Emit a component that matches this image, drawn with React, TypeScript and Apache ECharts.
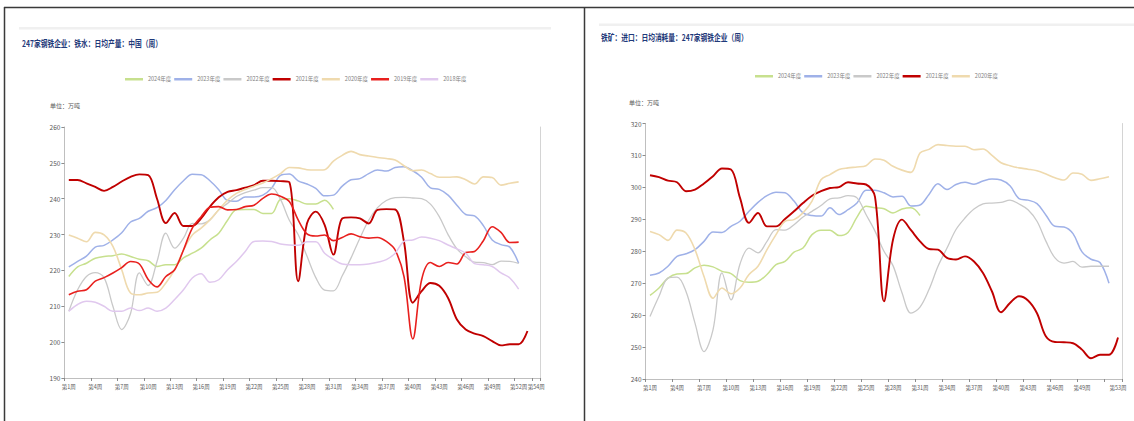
import React, { useEffect, useRef } from "react";
import * as echarts from "echarts";

// Week categories for the two panels
const LEFT_WEEKS = Array.from({ length: 54 }, (_, i) => `第${i + 1}周`);
const RIGHT_WEEKS = Array.from({ length: 53 }, (_, i) => `第${i + 1}周`);

// Hot metal daily output, 247 mills (10k t)
const HM_2024 = [218.3, 221, 222, 223.4, 223.9, 224.1, 224.6, 223.9, 223.1, 222.7, 221.1, 221.6, 221.6, 223.5, 224.8, 226.2, 228.5, 230.4, 234, 236.9, 237, 237, 235.9, 235.9, 239.8, 240, 239.4, 238.5, 238.5, 239.6, 237];
const HM_2023 = [221, 222.5, 224, 226.5, 227, 228.5, 230.5, 233.5, 234.5, 236.5, 237.5, 239.5, 242.5, 245, 246.8, 246.7, 245, 242.5, 239.5, 239.3, 240.5, 240.5, 241, 243, 246.5, 246.9, 245, 244.1, 242.9, 240.8, 241, 243.5, 245.3, 245.6, 247, 248, 247.7, 248.7, 248.9, 247.8, 246, 243, 242.6, 241, 238.2, 235.6, 235.2, 232.5, 228.5, 227.2, 226.5, 222];
const HM_2022 = [208.6, 214.6, 218.3, 219.4, 218, 210, 203.5, 208, 219.3, 215.8, 222.5, 230.4, 226.2, 229, 233.1, 233, 234.1, 236.9, 238.7, 240.6, 241.7, 242.4, 243.1, 243.1, 239.8, 234, 230, 224, 218, 214.5, 214.3, 218.5, 223.5, 229, 234, 237.5, 239.5, 240.3, 240.4, 240.2, 240, 238.5, 235, 230, 226, 223.8, 222.3, 222.2, 221.6, 222.6, 222.5, 222];
const HM_2021 = [245.2, 245.2, 244.3, 243.3, 242.2, 243.3, 244.8, 246.1, 246.8, 246.6, 240, 233.2, 236, 232.4, 232.4, 234.5, 237.8, 240.4, 241.9, 242.4, 243.1, 243.8, 245, 245, 244.9, 244.6, 217, 233.1, 236.4, 232.7, 224.4, 234.5, 234.8, 234.5, 233.1, 236.9, 237.1, 237, 228, 211, 214.2, 216.5, 215.7, 212.3, 206.3, 203.5, 202.4, 201.7, 200.3, 199.1, 199.4, 199.4, 203.1];
const HM_2020 = [229.9, 229, 228, 230.6, 229.9, 226.7, 220.2, 213.7, 213.2, 213.7, 213.9, 216.5, 220.2, 225.7, 229.9, 231.8, 234.1, 236.9, 239.6, 241.5, 242.6, 243.5, 244.4, 245.6, 247, 248.7, 248.6, 248.1, 248, 248.1, 250.5, 252.1, 253.2, 252.3, 251.9, 251.5, 251.2, 250.8, 249.2, 247.8, 248, 247, 246, 246, 246.1, 245.3, 244.1, 246.1, 245.9, 243.8, 244.3, 244.7];
const HM_2019 = [213.2, 214.2, 214.6, 217, 218, 219.3, 220.8, 222.5, 221.8, 217.5, 215.4, 218.3, 220.2, 225.7, 231.8, 235, 237.6, 237.8, 236.9, 237, 237.8, 238.2, 240.1, 241.3, 240.7, 239.2, 234.1, 230.2, 229.6, 229.9, 228.3, 229.2, 230.2, 229.4, 229, 229.2, 228.1, 225.7, 218.3, 200.9, 217.4, 222.2, 221.1, 222.2, 221.8, 225, 225.3, 228.3, 232.2, 230.6, 227.8, 227.9];
const HM_2018 = [208.6, 210.5, 211.4, 211.1, 210, 208.6, 208.6, 209.5, 208.8, 209.5, 208.6, 209.5, 211.9, 214.6, 217.9, 219.1, 216.7, 217.4, 220.2, 222.5, 225.3, 228.1, 228.2, 228.1, 227.4, 227.1, 227, 228, 228, 224.8, 223.1, 221.8, 221.6, 221.6, 221.8, 222.3, 223, 224.8, 228.1, 228.5, 229.3, 229, 228.3, 227.1, 226, 224.8, 221.9, 221.6, 221.1, 219.3, 217.9, 214.8];

// Imported iron ore daily consumption, 247 mills (10k t)
const ORE_2024 = [266.2, 268.5, 271.6, 272.9, 273, 274.8, 275.6, 275.1, 273.7, 273, 270.8, 270.3, 270.6, 272.7, 275.8, 276.8, 279.7, 281, 285.2, 286.6, 286.6, 284.9, 285.9, 290.7, 294.1, 293.6, 293.3, 292, 293.2, 293.6, 291.2];
const ORE_2023 = [272.5, 273.2, 275.3, 278.4, 279.2, 280.5, 283.1, 286, 285.9, 287.8, 289.4, 292.5, 295.3, 297.4, 298.5, 298.3, 295.7, 292, 291.2, 291, 293.6, 291.5, 293, 295.1, 299.1, 299.1, 298.3, 297, 297.2, 294.2, 294.5, 297.8, 301.1, 299.3, 300.9, 301.6, 301, 302, 302.6, 302.3, 300.5, 296.5, 296, 294.9, 291.3, 287.8, 287.6, 285.5, 279.8, 277.5, 276.5, 270];
const ORE_2022 = [259.6, 265.9, 271.6, 271.9, 267.4, 257.5, 248.6, 255.4, 273.2, 264.8, 276, 281, 279.5, 283.1, 286.8, 286.6, 288.3, 290.7, 292.5, 294.3, 296.4, 296.7, 297.4, 296.7, 291.5, 286.3, 280, 275.5, 267, 260.6, 262.5, 268, 275.3, 281, 286.8, 290.4, 293.2, 294.8, 295.1, 295.3, 296, 294.8, 293, 289.4, 283.1, 277.9, 276.3, 276.8, 275, 275.3, 275.3, 275.3];
const ORE_2021 = [303.8, 303.2, 302.1, 301.6, 298.8, 299.3, 301.2, 303.5, 305.9, 305.6, 296.7, 288.9, 292, 287.8, 287.8, 290.1, 292.5, 295.1, 297.4, 298.8, 299.8, 300.1, 301.6, 301.2, 300.9, 297, 264.3, 283.6, 289.9, 286.6, 283.1, 280.7, 280.5, 277.9, 277.4, 278.4, 276.8, 273.2, 267.4, 260.9, 263.8, 265.9, 264.6, 260.6, 253.3, 251.6, 251.5, 251.2, 249.2, 246.5, 247.6, 247.6, 253];
const ORE_2020 = [286.2, 285.2, 283.4, 286.6, 285.7, 280.5, 272.1, 265.3, 268.5, 266.7, 268.5, 272.7, 275.3, 280.5, 285.2, 289.4, 289.9, 292, 295.7, 302.4, 304, 305.6, 306.1, 306.4, 306.8, 308.9, 308.5, 306.6, 305.4, 304.7, 310.8, 311.9, 313.4, 313.1, 312.9, 312.9, 311.8, 312, 310, 307.7, 306.8, 306.1, 305.7, 305.2, 304.2, 303, 302.3, 304.5, 304.1, 302.2, 302.7, 303.3];

const YEAR_NAMES = ["2024年度", "2023年度", "2022年度", "2021年度", "2020年度", "2019年度", "2018年度"];
const YEAR_COLORS: Record<string, string> = {
  "2024年度": "#c7e08e",
  "2023年度": "#9fb1e8",
  "2022年度": "#c9c9c9",
  "2021年度": "#c00000",
  "2020年度": "#efdaae",
  "2019年度": "#e8201e",
  "2018年度": "#e0c8ee",
};
const YEAR_WIDTHS: Record<string, number> = {
  "2024年度": 1.5,
  "2023年度": 1.5,
  "2022年度": 1.3,
  "2021年度": 1.9,
  "2020年度": 1.6,
  "2019年度": 1.6,
  "2018年度": 1.5,
};

const LEFT_TITLE = "247家钢铁企业：铁水：日均产量：中国（周）";
const RIGHT_TITLE = "铁矿：进口：日均消耗量：247家钢铁企业（周）";
const UNIT = "单位：万吨";

const FONT = '"Noto Sans CJK SC", "Noto Sans", sans-serif';
const AXIS_GRAY = "#bfbfbf";
const LABEL_GRAY = "#595959";

function lineSeries(name: string, data: number[], xi: number, yi: number) {
  return {
    type: "line",
    name,
    data,
    xAxisIndex: xi,
    yAxisIndex: yi,
    smooth: 0.35,
    symbol: "none",
    lineStyle: { width: YEAR_WIDTHS[name], color: YEAR_COLORS[name] },
    itemStyle: { color: YEAR_COLORS[name] },
  };
}

function valueAxis(gridIndex: number, min: number, max: number) {
  return {
    type: "value",
    gridIndex,
    min,
    max,
    interval: 10,
    axisLine: { show: true, lineStyle: { color: AXIS_GRAY, width: 1 } },
    axisTick: { show: true, length: 3, lineStyle: { color: "#8c8c8c" } },
    axisLabel: { fontSize: 6.5, color: LABEL_GRAY, margin: 4, fontFamily: FONT },
    splitLine: { show: false },
  };
}

function borderAxis(gridIndex: number, min: number, max: number) {
  return {
    type: "value",
    gridIndex,
    position: "right",
    min,
    max,
    interval: 10,
    axisLine: { show: true, lineStyle: { color: "#d4d4d4", width: 1 } },
    axisTick: { show: false },
    axisLabel: { show: false },
    splitLine: { show: false },
  };
}

function weekAxis(gridIndex: number, data: string[], labelShown: (i: number) => boolean, tickShown: (i: number) => boolean) {
  return {
    type: "category",
    gridIndex,
    data,
    boundaryGap: true,
    axisLine: { show: true, lineStyle: { color: AXIS_GRAY, width: 1 } },
    axisTick: { show: true, length: 3, interval: (i: number) => tickShown(i), lineStyle: { color: "#8c8c8c" } },
    axisLabel: {
      interval: (i: number) => labelShown(i),
      fontSize: 5.5,
      color: LABEL_GRAY,
      margin: 6,
      fontFamily: FONT,
    },
    splitLine: { show: false },
  };
}

function yearLegend(names: string[], left: number, top: number) {
  return {
    data: names,
    left,
    top,
    padding: 0,
    icon: "rect",
    itemWidth: 18,
    itemHeight: 2.5,
    itemGap: 3,
    textStyle: { fontSize: 5.5, color: "#7f7f7f", fontFamily: FONT },
  };
}

export default function App() {
  const ref = useRef<HTMLDivElement>(null);

  useEffect(() => {
    if (!ref.current) return;
    const chart = echarts.init(ref.current, undefined, { renderer: "svg" });

    const leftShown = (i: number) => (i % 3 === 0 && i <= 51) || i === 53;
    const rightLabel = (i: number) => (i % 3 === 0 && i <= 48) || i === 52;
    const rightTick = (i: number) => i % 3 === 0;

    const frameStroke = { stroke: "#3a3a3a", lineWidth: 1.5 };

    chart.setOption({
      animation: false,
      backgroundColor: "#ffffff",
      textStyle: { fontFamily: FONT },
      grid: [
        { left: 64.4, top: 127, width: 476.3, height: 251 },
        { left: 645.5, top: 123.5, width: 477, height: 255.5 },
      ],
      xAxis: [
        weekAxis(0, LEFT_WEEKS, leftShown, leftShown),
        weekAxis(1, RIGHT_WEEKS, rightLabel, rightTick),
      ],
      yAxis: [
        valueAxis(0, 190, 260),
        borderAxis(0, 190, 260),
        valueAxis(1, 240, 320),
        borderAxis(1, 240, 320),
      ],
      legend: [yearLegend(YEAR_NAMES, 125, 76.5), yearLegend(YEAR_NAMES.slice(0, 5), 755, 73.5)],
      graphic: [
        // outer frame and panel divider
        { type: "line", shape: { x1: 4, y1: 7.5, x2: 1134, y2: 7.5 }, style: frameStroke, silent: true },
        { type: "line", shape: { x1: 4.5, y1: 7, x2: 4.5, y2: 421 }, style: frameStroke, silent: true },
        { type: "line", shape: { x1: 584.5, y1: 7, x2: 584.5, y2: 421 }, style: frameStroke, silent: true },
        // header bands
        { type: "rect", shape: { x: 19, y: 27, width: 532, height: 2.5 }, style: { fill: "#f0f0f0" }, silent: true },
        { type: "rect", shape: { x: 599, y: 23.5, width: 535, height: 2.5 }, style: { fill: "#f0f0f0" }, silent: true },
        // panel titles
        {
          type: "text",
          x: 22,
          y: 43,
          scaleX: 0.75,
          style: { text: LEFT_TITLE, fontSize: 9, fontWeight: "bold", fontFamily: FONT, fill: "#1f3a7a", verticalAlign: "middle" },
          silent: true,
        },
        {
          type: "text",
          x: 601,
          y: 37,
          scaleX: 0.75,
          style: { text: RIGHT_TITLE, fontSize: 9, fontWeight: "bold", fontFamily: FONT, fill: "#1f3a7a", verticalAlign: "middle" },
          silent: true,
        },
        // unit captions
        {
          type: "text",
          x: 50,
          y: 105,
          style: { text: UNIT, fontSize: 6, fontFamily: FONT, fill: LABEL_GRAY, verticalAlign: "middle" },
          silent: true,
        },
        {
          type: "text",
          x: 629,
          y: 102,
          style: { text: UNIT, fontSize: 6, fontFamily: FONT, fill: LABEL_GRAY, verticalAlign: "middle" },
          silent: true,
        },
      ],
      series: [
        lineSeries("2024年度", HM_2024, 0, 0),
        lineSeries("2023年度", HM_2023, 0, 0),
        lineSeries("2022年度", HM_2022, 0, 0),
        lineSeries("2021年度", HM_2021, 0, 0),
        lineSeries("2020年度", HM_2020, 0, 0),
        lineSeries("2019年度", HM_2019, 0, 0),
        lineSeries("2018年度", HM_2018, 0, 0),
        lineSeries("2024年度", ORE_2024, 1, 2),
        lineSeries("2023年度", ORE_2023, 1, 2),
        lineSeries("2022年度", ORE_2022, 1, 2),
        lineSeries("2021年度", ORE_2021, 1, 2),
        lineSeries("2020年度", ORE_2020, 1, 2),
      ],
    });

    return () => chart.dispose();
  }, []);

  return (
    <div
      ref={ref}
      style={{ position: "absolute", left: 0, top: 0, width: 1134, height: 421, background: "#ffffff" }}
    />
  );
}
